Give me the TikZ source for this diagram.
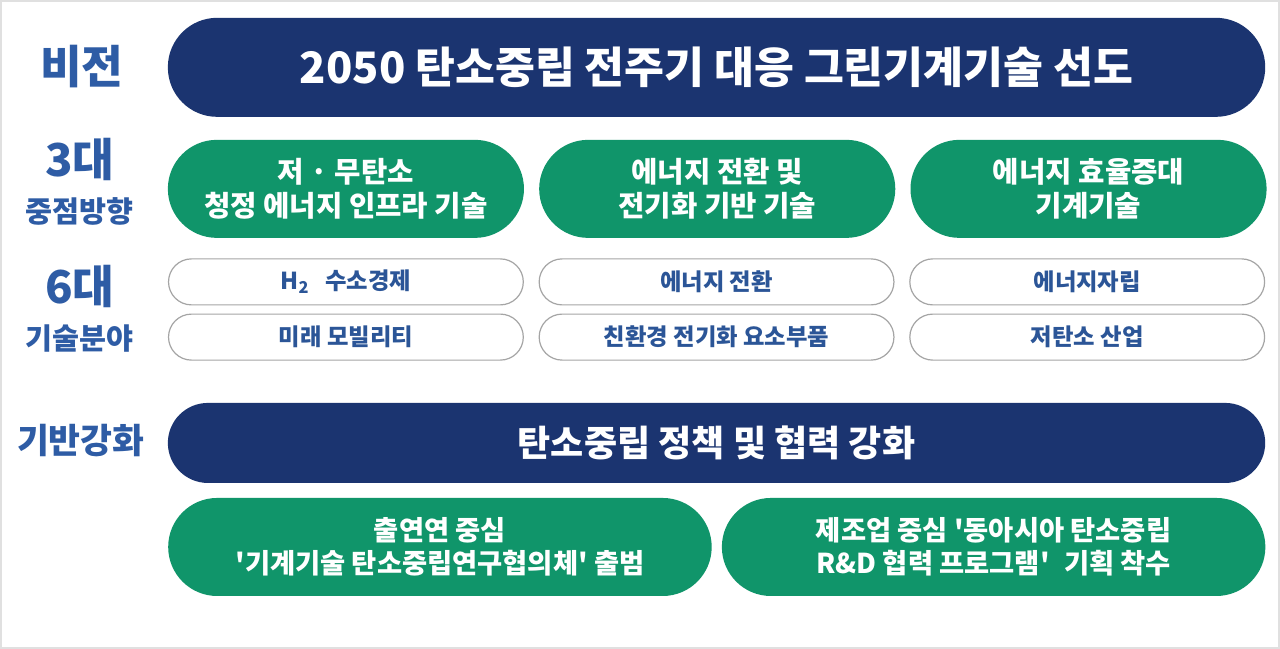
\documentclass[tikz,border=0pt]{standalone}
\usepackage{fontspec}
\setmainfont{Noto Sans CJK KR}
\usetikzlibrary{positioning}

\definecolor{navy}{HTML}{1B3470}
\definecolor{leaf}{HTML}{10956A}
\definecolor{tagblue}{HTML}{2E5CA5}
\definecolor{techblue}{HTML}{2B5597}
\definecolor{rim}{HTML}{A5A5A5}

\newcommand{\sq}{\textquotesingle}

\begin{document}
\begin{tikzpicture}[
    x=0.75pt, y=-0.75pt,
    node distance=11pt and 11pt,
    pill/.style={rounded corners=#1, align=center, inner sep=0pt, font=\bfseries},
    vision/.style={pill=37pt, fill=navy, text=white, minimum width=822.75pt, minimum height=74.25pt, font=\bfseries\fontsize{32.5}{36}\selectfont},
    focus/.style={pill=36.75pt, fill=leaf, text=white, minimum width=267pt, minimum height=73.5pt, font=\bfseries\fontsize{21.5}{26}\selectfont},
    tech/.style={pill=17.25pt, draw=rim, line width=0.9pt, fill=white, text=techblue, minimum width=266pt, minimum height=34.5pt, font=\bfseries\fontsize{17.5}{20}\selectfont},
    base/.style={pill=30pt, fill=navy, text=white, minimum width=822.75pt, minimum height=60pt, font=\bfseries\fontsize{27}{30}\selectfont},
    task/.style={pill=36.75pt, fill=leaf, text=white, minimum width=407.5pt, minimum height=73.5pt, font=\bfseries\fontsize{20.5}{25}\selectfont},
    tag/.style={text=tagblue, align=center, inner sep=0pt, font=\bfseries\fontsize{34}{36}\selectfont},
    subtag/.style={text=tagblue, align=center, inner sep=0pt, font=\bfseries\fontsize{22}{24}\selectfont}
]
% frame
\draw[draw=black!12, line width=1.2pt, fill=white] (1,1) rectangle (1279,648);

% vision
\node[vision] (vis) at (716.5,67.5) {2050 탄소중립 전주기 대응 그린기계기술 선도};
\node[tag] (visTag) at (82,67) {비전};

% three focus directions
\node[focus] (foc1) at (346,189) {저 · 무탄소\\청정 에너지 인프라 기술};
\node[focus, right=of foc1] (foc2) {에너지 전환 및\\전기화 기반 기술};
\node[focus, right=of foc2] (foc3) {에너지 효율증대\\기계기술};
\node[tag] (focTag) at (80,160) {3대};
\node[subtag, below=12pt of focTag] (focSub) {중점방향};

% six technology fields
\node[tech] (t1) at (346,282) {H\textsubscript{2}\hspace{0.7em}수소경제};
\node[tech, right=11pt of t1] (t2) {에너지 전환};
\node[tech, right=11pt of t2] (t3) {에너지자립};
\node[tech, below=6pt of t1] (t4) {미래 모빌리티};
\node[tech, below=6pt of t2] (t5) {친환경 전기화 요소부품};
\node[tech, below=6pt of t3] (t6) {저탄소 산업};
\node[tag] (techTag) at (80,287) {6대};
\node[subtag, below=12pt of techTag] (techSub) {기술분야};

% foundation
\node[base] (bas) at (716.5,443) {탄소중립 정책 및 협력 강화};
\node[subtag, font=\bfseries\fontsize{26}{28}\selectfont] (basTag) at (81,441) {기반강화};
\node[task] (task1) at (440,547) {출연연 중심\\\sq 기계기술 탄소중립연구협의체\sq{} 출범};
\node[task] (task2) at (993.5,547) {제조업 중심 \sq 동아시아 탄소중립\\R\&D 협력 프로그램\sq\hspace{0.3em} 기획 착수};
\end{tikzpicture}
\end{document}
